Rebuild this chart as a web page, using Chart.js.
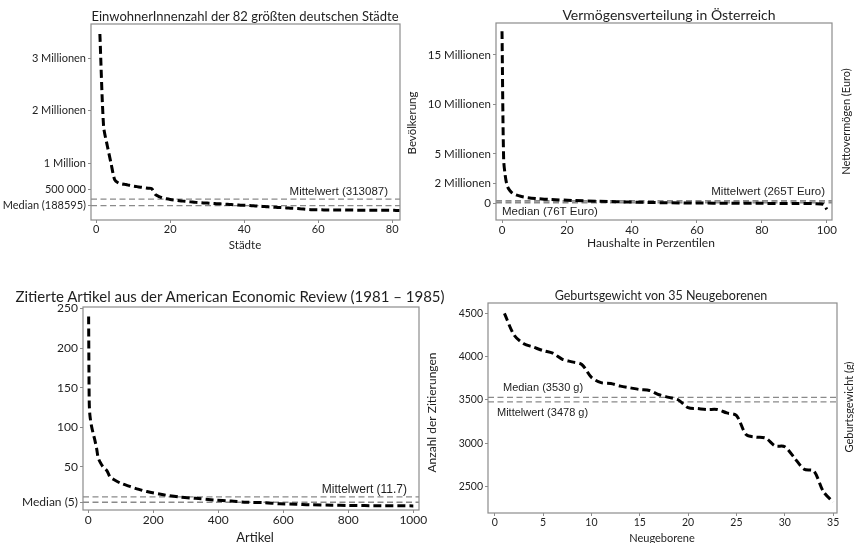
<!DOCTYPE html>
<html>
<head>
<meta charset="utf-8">
<script src="https://cdn.jsdelivr.net/npm/chart.js@4.4.0/dist/chart.umd.min.js"></script>
<style>
  body { margin: 0; width: 854px; height: 543px; position: relative; overflow: hidden; background: #fff; font-family: Lato, sans-serif; color: #1e1e1e; }
  canvas { position: absolute; }
  .t { position: absolute; white-space: nowrap; line-height: 1; transform: translate(-50%, -50%); color: #1e1e1e; }
</style>
</head>
<body>
<canvas id="c1" width="427" height="270" style="left:0;top:0"></canvas>
<canvas id="c2" width="427" height="270" style="left:427px;top:0"></canvas>
<canvas id="c3" width="440" height="273" style="left:0;top:270px"></canvas>
<canvas id="c4" width="414" height="273" style="left:440px;top:270px"></canvas>

<div class="t" style="left:245px;top:16px;font-size:13px">EinwohnerInnenzahl der 82 größten deutschen Städte</div>
<div class="t" style="left:245px;top:245px;font-size:11.5px">Städte</div>

<div class="t" style="left:669px;top:15px;font-size:14px">Vermögensverteilung in Österreich</div>
<div class="t" style="left:651px;top:243px;font-size:12px">Haushalte in Perzentilen</div>

<div class="t" style="left:230px;top:296px;font-size:15px">Zitierte Artikel aus der American Economic Review (1981 – 1985)</div>
<div class="t" style="left:255px;top:537px;font-size:13px">Artikel</div>

<div class="t" style="left:661px;top:296px;font-size:12.5px">Geburtsgewicht von 35 Neugeborenen</div>
<div class="t" style="left:662px;top:537px;font-size:11px">Neugeborene</div>

<script>
// --- Städte: Einwohner (Tausend), nach Rang 1..82
const staedteRang = Array.from({ length: 82 }, (_, i) => i + 1);
const staedteEinwohnerT = [
  3460, 1700, 1330, 1000, 680, 620, 600, 590, 575, 560,
  550, 540, 530, 520, 512, 400, 360, 332, 318, 306,
  296, 287, 278, 270, 263, 256, 250, 245, 240, 236,
  232, 228, 224, 220, 215, 210, 205, 201, 197, 194,
  191, 187, 183, 178, 172, 167, 162, 158, 154, 150,
  146, 142, 138, 134, 130, 124, 117, 111, 109, 108,
  107, 106, 106, 105, 105, 104, 104, 103, 103, 102,
  102, 101, 101, 100, 100, 100, 99, 99, 98, 98, 97, 97
];
const staedteMedian = 188595;
const staedteMittel = 313087;
const staedteYTicks = [188595, 500000, 1000000, 2000000, 3000000];
const staedteYLabels = ['Median (188595)', '500 000', '1 Million', '2 Millionen', '3 Millionen'];
const staedteXTicks = [0, 20, 40, 60, 80];

// --- Vermögen Österreich: Perzentil -> Nettovermögen (Euro)
const vermPerzentil = [0, 0.5, 1, 1.5, 2, 3, 4, 6, 8, 11, 15, 22, 30, 40, 50, 60, 70, 80, 90, 96, 99, 100];
const vermEuro = [17400000, 4500000, 2800000, 1900000, 1500000, 1100000, 900000, 700000, 580000, 480000,
  400000, 300000, 220000, 140000, 76000, 45000, 25000, 10000, 2000, -20000, -100000, -600000];
const vermMedian = 76000;
const vermMittel = 265000;
const vermYTicks = [0, 2000000, 5000000, 10000000, 15000000];
const vermYLabels = ['0', '2 Millionen', '5 Millionen', '10 Millionen', '15 Millionen'];
const vermXTicks = [0, 20, 40, 60, 80, 100];

// --- AER Zitierungen: Artikel-Rang -> Zitate
const aerArtikel = [1, 2, 3, 5, 10, 15, 20, 26, 30, 36, 45, 57, 67, 77, 100, 128, 150, 180, 231,
  282, 330, 385, 440, 487, 540, 590, 640, 680, 750, 800, 900, 1000];
const aerZitate = [240, 170, 130, 115, 101, 92, 84, 72, 62, 56, 50, 45, 37, 34, 29, 25, 22, 18.5, 14.5,
  11.5, 10, 8, 6.5, 5, 4.5, 3, 2.5, 1.8, 1.3, 1, 0.6, 0.4];
const aerMedian = 5;
const aerMittel = 11.7;
const aerYTicks = [5, 50, 100, 150, 200, 250];
const aerYLabels = ['Median (5)', '50', '100', '150', '200', '250'];
const aerXTicks = [0, 200, 400, 600, 800, 1000];

// --- Geburtsgewicht (g) von 35 Neugeborenen
const babyNr = Array.from({ length: 35 }, (_, i) => i + 1);
const babyGewicht = [4500, 4250, 4150, 4110, 4070, 4040, 3970, 3940, 3910, 3760,
  3700, 3690, 3660, 3640, 3620, 3610, 3560, 3530, 3500, 3410,
  3400, 3390, 3390, 3350, 3320, 3100, 3070, 3060, 2970, 2960,
  2830, 2700, 2680, 2440, 2320];
const babyMedian = 3530;
const babyMittel = 3478;
const babyYTicks = [2500, 3000, 3500, 4000, 4500];
const babyXTicks = [0, 5, 10, 15, 20, 25, 30, 35];

const LINE = '#000';
const REF = '#8a8a8a';
const BOX = '#8c8c8c';
const TEXT = '#1e1e1e';

function mainLine(xs, ys, tension) {
  return {
    data: xs.map((x, i) => ({ x: x, y: ys[i] })),
    borderColor: LINE, borderWidth: 3, borderDash: [8, 4],
    pointRadius: 0, tension: tension, fill: false, order: 0
  };
}

function refLine(v, xMin, xMax, width) {
  return {
    data: [{ x: xMin, y: v }, { x: xMax, y: v }],
    borderColor: REF, borderWidth: width || 1.3, borderDash: [6, 3.5],
    pointRadius: 0, fill: false, order: 1
  };
}

function makeChart(id, o) {
  const canvas = document.getElementById(id);
  const notesPlugin = {
    id: 'notes',
    afterDatasetsDraw(chart) {
      const ctx = chart.ctx, a = chart.chartArea, ys = chart.scales.y;
      ctx.save();
      ctx.strokeStyle = BOX;
      ctx.lineWidth = 1.2;
      ctx.strokeRect(a.left, a.top, a.right - a.left, a.bottom - a.top);
      ctx.fillStyle = TEXT;
      ctx.textBaseline = 'middle';
      o.notes.forEach(n => {
        ctx.font = (n.size || 11.5) + 'px "Liberation Sans", Arial, sans-serif';
        ctx.textAlign = n.side === 'right' ? 'right' : 'left';
        const x = n.side === 'right' ? a.right - n.dx : a.left + n.dx;
        ctx.fillText(n.text, x, ys.getPixelForValue(n.value) + n.dy);
      });
      // rotated value-axis title, to the right of the box
      ctx.font = o.yTitle.size + 'px Lato, sans-serif';
      ctx.textAlign = 'center';
      ctx.translate(a.right + o.yTitle.dx, (a.top + a.bottom) / 2 + o.yTitle.dy);
      ctx.rotate(-Math.PI / 2);
      ctx.fillText(o.yTitle.text, 0, 0);
      ctx.restore();
    }
  };
  return new Chart(canvas.getContext('2d'), {
    type: 'line',
    data: { datasets: o.datasets },
    options: {
      responsive: false,
      animation: false,
      layout: { padding: { left: 0, top: o.top, right: canvas.width - o.right, bottom: 0 } },
      plugins: { legend: { display: false }, tooltip: { enabled: false } },
      scales: {
        x: {
          type: 'linear', min: o.xMin, max: o.xMax,
          afterBuildTicks: s => { s.ticks = o.xTicks.map(v => ({ value: v })); },
          afterFit: s => { s.height = canvas.height - o.bottom; },
          border: { display: false },
          grid: { drawOnChartArea: false, tickLength: 3, color: BOX },
          ticks: { padding: 0, color: TEXT, font: o.tickFont, maxRotation: 0, callback: v => String(v) }
        },
        y: {
          type: 'linear', min: o.yMin, max: o.yMax,
          afterBuildTicks: s => { s.ticks = o.yTicks.map(v => ({ value: v })); },
          afterFit: s => { s.width = o.left; },
          border: { display: false },
          grid: { drawOnChartArea: false, tickLength: 3, color: BOX },
          ticks: {
            padding: 2, color: TEXT, font: o.tickFont,
            callback: v => o.yLabels ? o.yLabels[o.yTicks.indexOf(v)] : String(v)
          }
        }
      }
    },
    plugins: [notesPlugin]
  });
}

// Panel 1
makeChart('c1', {
  left: 91, right: 400, top: 24, bottom: 220,
  xMin: -1.4, xMax: 82.1, yMin: -86000, yMax: 3650000,
  xTicks: staedteXTicks, yTicks: staedteYTicks, yLabels: staedteYLabels,
  tickFont: { family: 'Lato', size: 11 },
  yTitle: { text: 'Bevölkerung', size: 11.5, dx: 12, dy: 1 },
  datasets: [
    mainLine(staedteRang, staedteEinwohnerT.map(v => v * 1000), 0.25),
    refLine(staedteMittel, -1.4, 82.1),
    refLine(staedteMedian, -1.4, 82.1)
  ],
  notes: [{ text: 'Mittelwert (313087)', value: staedteMittel, side: 'right', dx: 12, dy: -7 }]
});

// Panel 2
makeChart('c2', {
  left: 69, right: 405, top: 23, bottom: 220,
  xMin: -1.85, xMax: 101.6, yMin: -1670000, yMax: 18230000,
  xTicks: vermXTicks, yTicks: vermYTicks, yLabels: vermYLabels,
  tickFont: { family: 'Lato', size: 11.5 },
  yTitle: { text: 'Nettovermögen (Euro)', size: 11, dx: 14, dy: 0 },
  datasets: [
    mainLine(vermPerzentil, vermEuro, 0.3),
    refLine(vermMittel, -1.85, 101.6, 1.8),
    refLine(vermMedian, -1.85, 101.6, 1.8)
  ],
  notes: [
    { text: 'Mittelwert (265T Euro)', value: vermMittel, side: 'right', dx: 7, dy: -8.6 },
    { text: 'Median (76T Euro)', value: vermMedian, side: 'left', dx: 6, dy: 9 }
  ]
});

// Panel 3
makeChart('c3', {
  left: 83, right: 419, top: 37, bottom: 240,
  xMin: -16.3, xMax: 1017.5, yMin: -4.8, yMax: 252,
  xTicks: aerXTicks, yTicks: aerYTicks, yLabels: aerYLabels,
  tickFont: { family: 'Lato', size: 12 },
  yTitle: { text: 'Anzahl der Zitierungen', size: 12, dx: 13, dy: 4 },
  datasets: [
    mainLine(aerArtikel, aerZitate, 0.3),
    refLine(aerMittel, -16.3, 1017.5),
    refLine(aerMedian, -16.3, 1017.5)
  ],
  notes: [{ text: 'Mittelwert (11.7)', value: aerMittel, side: 'right', dx: 12, dy: -7, size: 12 }]
});

// Panel 4
makeChart('c4', {
  left: 48, right: 397, top: 33, bottom: 243,
  xMin: -0.7, xMax: 35.4, yMin: 2194, yMax: 4620,
  xTicks: babyXTicks, yTicks: babyYTicks, yLabels: null,
  tickFont: { family: 'Lato', size: 10.5 },
  yTitle: { text: 'Geburtsgewicht (g)', size: 11, dx: 12, dy: -1 },
  datasets: [
    mainLine(babyNr, babyGewicht, 0.3),
    refLine(babyMedian, -0.7, 35.4),
    refLine(babyMittel, -0.7, 35.4)
  ],
  notes: [
    { text: 'Median (3530 g)', value: babyMedian, side: 'left', dx: 15, dy: -9.6, size: 11 },
    { text: 'Mittelwert (3478 g)', value: babyMittel, side: 'left', dx: 9, dy: 11.5, size: 11 }
  ]
});
</script>
</body>
</html>
